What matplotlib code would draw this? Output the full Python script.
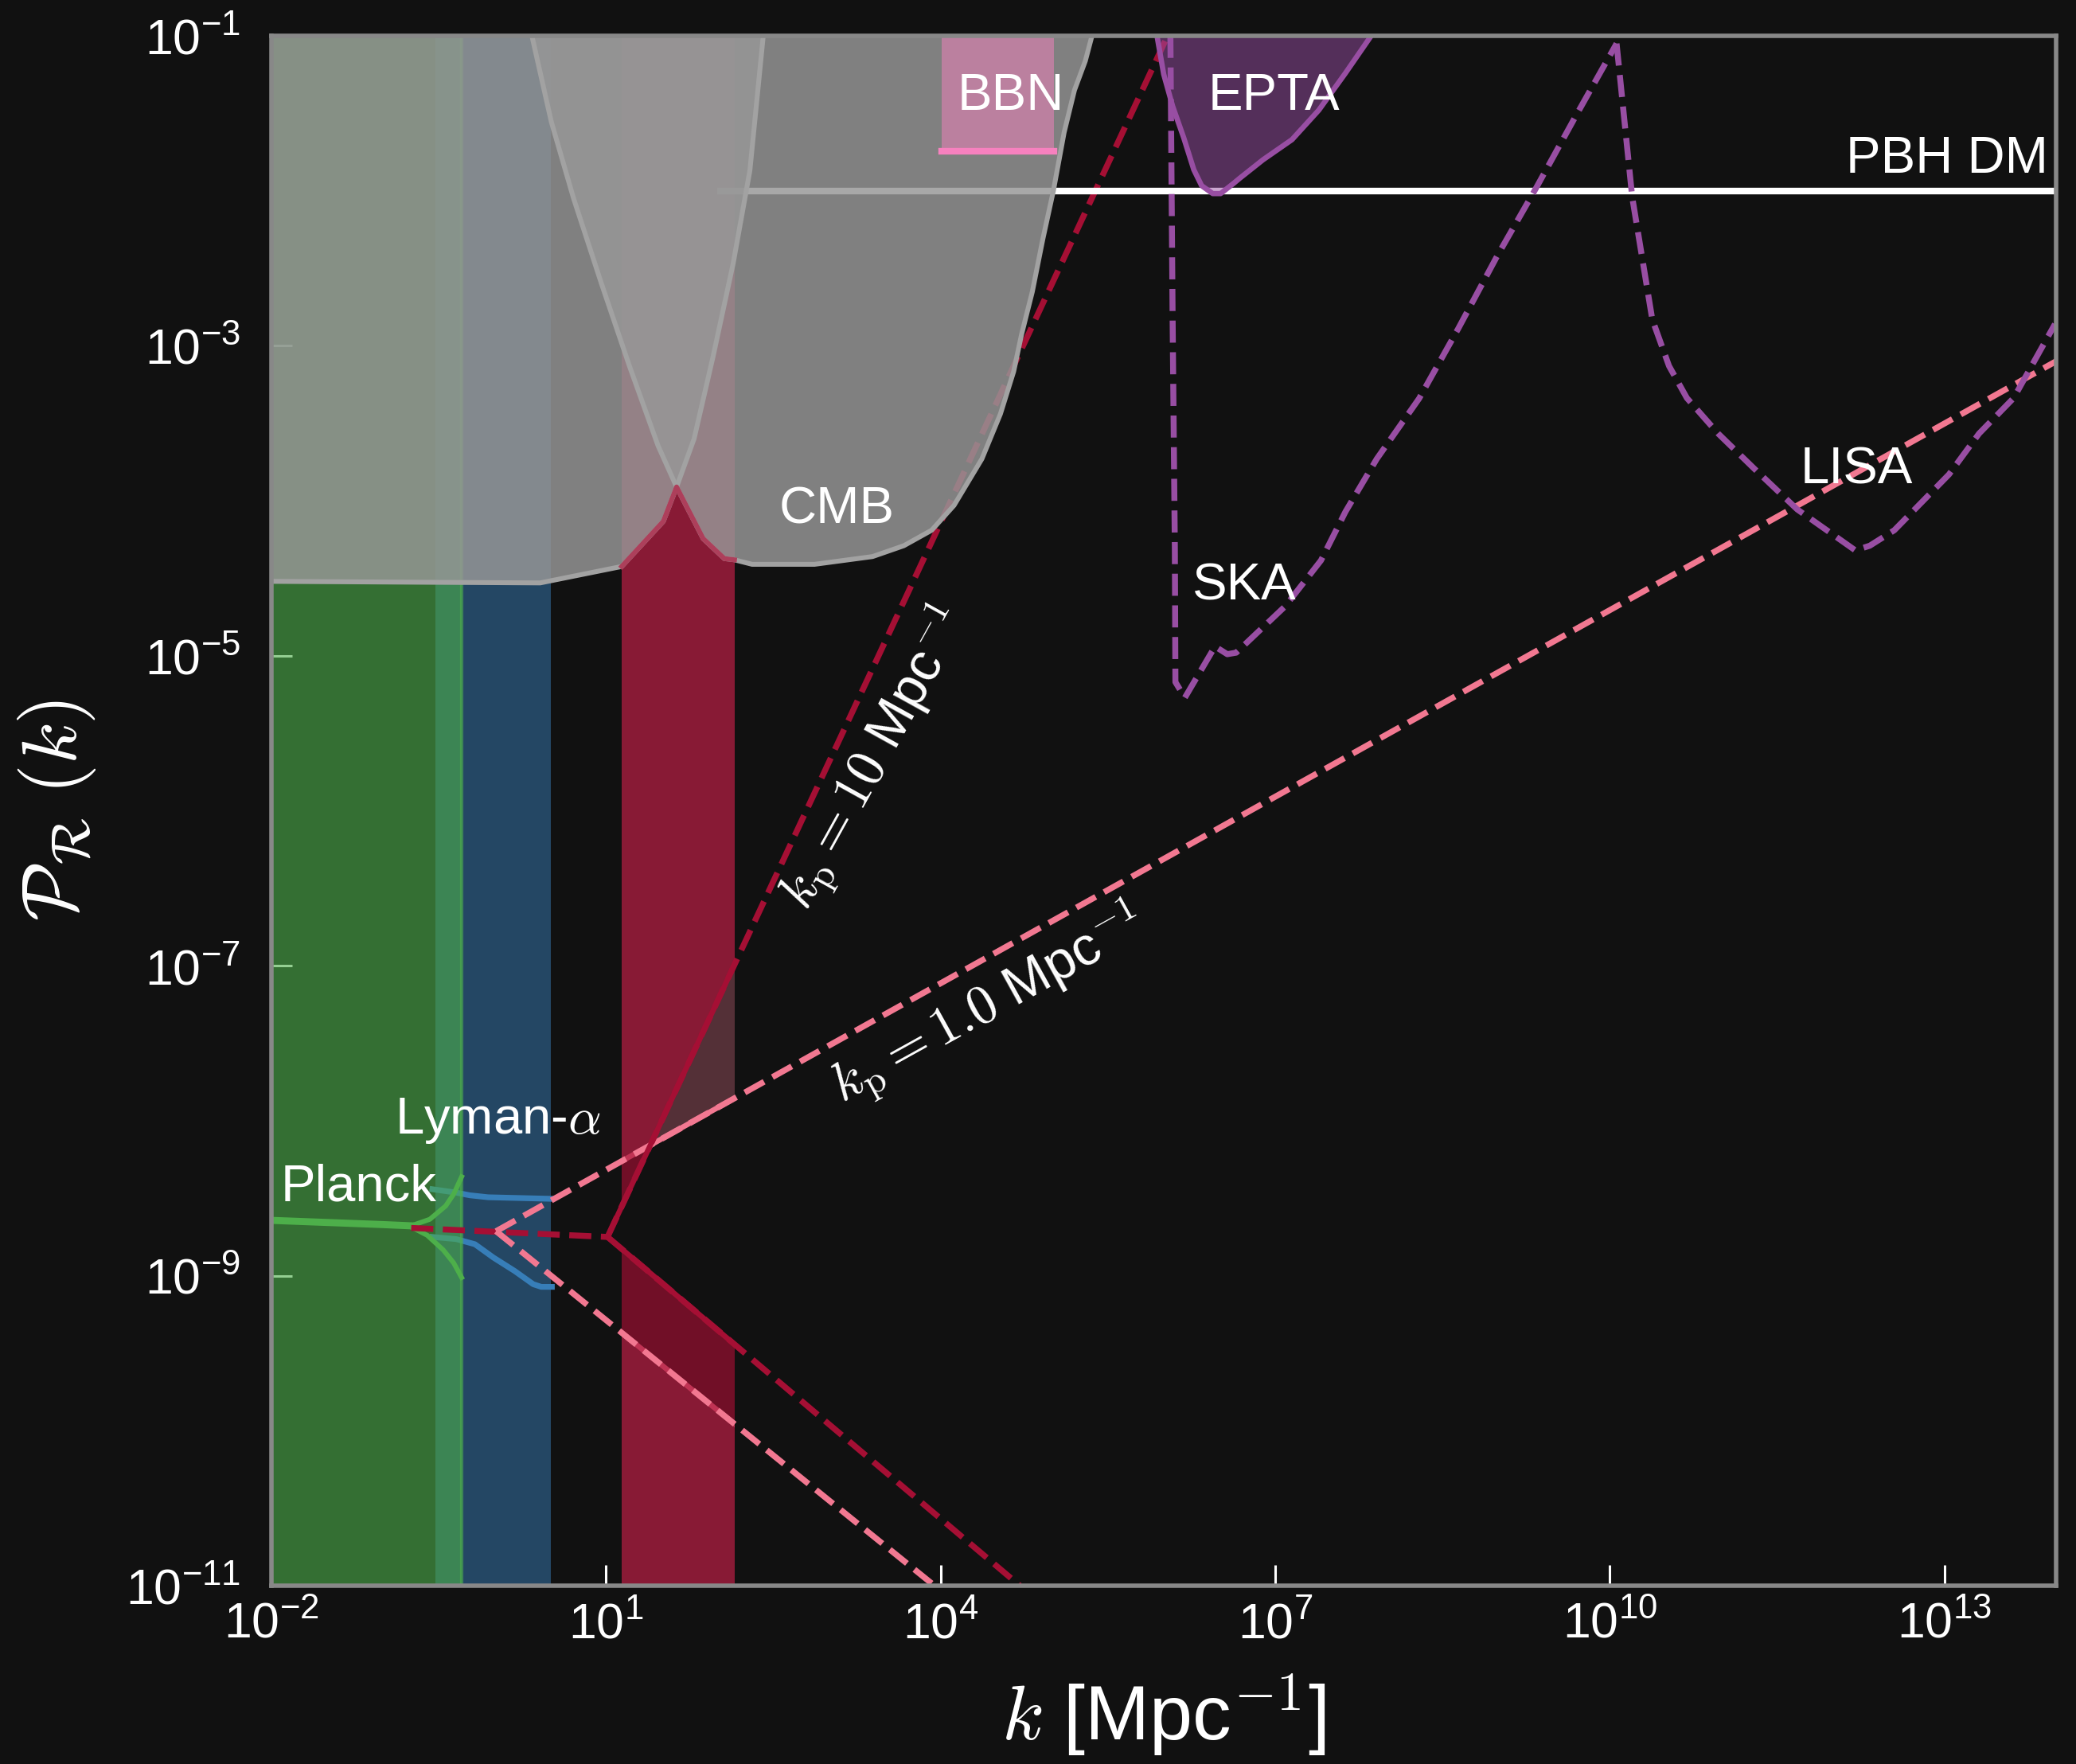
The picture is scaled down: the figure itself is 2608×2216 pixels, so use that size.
import numpy as np
import matplotlib
matplotlib.use("Agg")
import matplotlib.pyplot as plt
from matplotlib.patches import Rectangle
from matplotlib.ticker import FixedLocator, NullLocator

plt.rcParams.update({
    "font.family": ["Liberation Sans", "DejaVu Sans"],
    "mathtext.fontset": "custom",
    "mathtext.rm": "Liberation Sans",
    "mathtext.it": "Liberation Sans:italic",
    "mathtext.bf": "Liberation Sans:bold",
    "mathtext.sf": "Liberation Sans",
})

# ---------------- data (log10 k [Mpc^-1], log10 P_R) ----------------
K_LIM = (1e-2, 1e14)
P_LIM = (1e-11, 1e-1)
xticks = [1e-2, 1e1, 1e4, 1e7, 1e10, 1e13]
yticks = [1e-11, 1e-9, 1e-7, 1e-5, 1e-3, 1e-1]

# Planck
planck_band_logk = [-2.0, -0.294]
planck_mid_logk = [-2.0, -1.008, -0.722]
planck_mid_logP = [-8.643, -8.670, -8.679]
planck_up_logk = [-0.722, -0.579, -0.437, -0.365, -0.294]
planck_up_logP = [-8.672, -8.636, -8.550, -8.473, -8.362]
planck_lo_logk = [-0.746, -0.603, -0.460, -0.365, -0.294]
planck_lo_logP = [-8.686, -8.739, -8.833, -8.918, -9.012]

# Lyman-alpha
lya_band_logk = [-0.532, 0.503]
lya_up_logk = [-0.556, -0.342, -0.223, -0.056, 0.515]
lya_up_logP = [-8.442, -8.464, -8.481, -8.494, -8.504]
lya_lo_logk = [-0.556, -0.342, -0.175, -0.009, 0.182, 0.348, 0.420, 0.515]
lya_lo_logP = [-8.750, -8.764, -8.797, -8.883, -8.970, -9.055, -9.072, -9.072]

# red band (k range)
red_band_logk = [1.141, 2.152]
red_edge_logk = [1.141, 1.514, 1.633, 1.871, 2.061, 2.152]
red_edge_logP = [-4.424, -4.133, -3.911, -4.244, -4.373, -4.381]

# spectra with peaks at k_p
base_logk = [-0.746, 1.014]
base_logP = [-8.692, -8.750]
kp10_up_logk = [1.014, 6.035]
kp10_up_logP = [-8.750, -1.0]
kp10_dn_logk = [1.014, 4.71]
kp10_dn_logP = [-8.750, -11.0]
kp1_up_logk = [0.015, 14.0]
kp1_up_logP = [-8.713, -3.10]
kp1_dn_logk = [0.015, 3.945]
kp1_dn_logP = [-8.713, -11.0]

# CMB-type gray regions
g1_logk = [2.41, 2.29, 2.14, 1.96, 1.79, 1.633, 1.514, 1.141, 0.41, -2.0]
g1_logP = [-1.0, -1.87, -2.47, -3.07, -3.60, -3.911, -4.133, -4.424, -4.53, -4.52]
g2_logk = [0.336, 0.51, 0.71, 0.96, 1.21, 1.467, 1.633, 1.871, 2.061, 2.152, 2.31, 2.87,
           3.39, 3.67, 3.92, 4.12, 4.37, 4.536, 4.655, 4.726, 4.822, 4.917, 5.011,
           5.107, 5.20, 5.297, 5.357]
g2_logP = [-1.0, -1.555, -2.05, -2.60, -3.13, -3.645, -3.911, -4.244, -4.373, -4.381, -4.41,
           -4.41, -4.36, -4.29, -4.19, -4.03, -3.73, -3.44, -3.166, -2.926, -2.652, -2.31,
           -2.0, -1.625, -1.351, -1.163, -1.0]

# PBH DM, BBN
pbh_logk = [2.0, 14.0]
pbh_logP = -2.0
bbn_logk = [4.012, 5.017]
bbn_logP = -1.745

# EPTA
epta_logk = [5.94, 6.0, 6.08, 6.18, 6.27, 6.34, 6.44, 6.51, 6.63, 6.68, 6.89, 7.15, 7.39, 7.63, 7.86]
epta_logP = [-1.0, -1.248, -1.454, -1.659, -1.864, -1.967, -2.018, -2.018, -1.950, -1.92,
             -1.80, -1.67, -1.48, -1.24, -1.0]

# SKA
ska_logk = [6.06, 6.08, 6.10, 6.105, 6.19, 6.46, 6.57, 6.65, 7.09, 7.41, 7.63, 7.91,
            8.29, 8.64, 8.99, 9.34, 9.70, 10.06]
ska_logP = [-1.0, -2.83, -4.31, -5.17, -5.27, -4.94, -4.99, -4.98, -4.68, -4.385, -4.07,
            -3.73, -3.34, -2.89, -2.42, -1.98, -1.51, -1.05]

# LISA
lisa_logk = [10.06, 10.20, 10.38, 10.53, 10.69, 10.97, 11.29, 11.68, 12.20, 12.33, 12.55,
             13.04, 13.31, 13.62, 13.99]
lisa_logP = [-1.05, -2.04, -2.83, -3.13, -3.337, -3.566, -3.79, -4.056, -4.32, -4.29, -4.19,
             -3.83, -3.566, -3.337, -2.86]

# labels: (text, log k, log P)
labels = [
    ("Planck", -1.916, -8.517),
    ("Lyman-$\\alpha$", -0.891, -8.081),
    ("CMB", 2.554, -4.148),
    ("BBN", 4.151, -1.479),
    ("EPTA", 6.395, -1.477),
    ("SKA", 6.258, -4.640),
    ("LISA", 11.705, -3.887),
]
pbh_label = ("PBH DM", 13.93, -1.883)
kp10_label = ("$k_{\\rm p} = 10$ Mpc$^{-1}$", 3.408, -5.661, 61.0)
kp1_label = ("$k_{\\rm p} = 1.0$ Mpc$^{-1}$", 4.426, -7.255, 29.0)

# ---------------- styling ----------------
BG = "#111111"
c_green = "#4daf4a"
c_blue = "#377eb8"
c_crimson = "#a50f34"
c_pink = "#f27891"
c_bbn = "#f781bf"
c_purple = "#984ea3"
c_gray = "#979797"
c_gray_edge = "#a2a2a2"

LW_DASH = 2.7
DASH = (0, (3.7, 1.6))


def p10(v):
    return np.power(10.0, np.asarray(v, dtype=float))


fig = plt.figure(figsize=(13.04, 11.08), dpi=200, facecolor=BG)
ax = fig.add_axes([0.1307, 0.1011, 0.8597, 0.8786])
ax.set_facecolor(BG)
ax.set_xscale("log")
ax.set_yscale("log")
ax.set_xlim(K_LIM)
ax.set_ylim(P_LIM)
ax.set_axisbelow(True)

Pmin, Pmax = P_LIM
kmin, kmax = K_LIM

# band clip rectangle
band_k = p10(red_band_logk)
band_rect = Rectangle((band_k[0], Pmin), band_k[1] - band_k[0], Pmax - Pmin,
                      transform=ax.transData)


def wedge_fill(up_k, up_P, dn_k, dn_P, color, alpha, z):
    kk = list(p10(up_k)) + [p10(up_k[-1]), p10(up_k[0])]
    pp = list(p10(up_P)) + [Pmax, Pmax]
    f1 = ax.fill(kk, pp, color=color, alpha=alpha, lw=0, zorder=z)[0]
    f1.set_clip_path(band_rect)
    kk = list(p10(dn_k)) + [p10(dn_k[0])]
    pp = list(p10(dn_P)) + [Pmin]
    f2 = ax.fill(kk, pp, color=color, alpha=alpha, lw=0, zorder=z)[0]
    f2.set_clip_path(band_rect)


# pink (k_p = 1) outside-wedge fill, then crimson (k_p = 10)
wedge_fill(kp1_up_logk, kp1_up_logP, kp1_dn_logk, kp1_dn_logP, c_pink, 0.30, 1.0)
for lk, lp in [(kp1_up_logk, kp1_up_logP), (kp1_dn_logk, kp1_dn_logP)]:
    ln, = ax.plot(p10(lk), p10(lp), color=c_pink, lw=2.4, zorder=1.1,
                  solid_capstyle="butt")
    ln.set_clip_path(band_rect)
wedge_fill(kp10_up_logk, kp10_up_logP, kp10_dn_logk, kp10_dn_logP, c_crimson, 0.65, 1.2)

# Lyman-alpha band
ax.fill_between(p10(lya_band_logk), Pmin, Pmax, color=c_blue, alpha=0.5, lw=0, zorder=1.3)
ax.plot(p10(lya_up_logk), p10(lya_up_logP), color=c_blue, lw=2.6, zorder=1.4)
ax.plot(p10(lya_lo_logk), p10(lya_lo_logP), color=c_blue, lw=2.6, zorder=1.4)

# Planck band
ax.fill_between(p10(planck_band_logk), Pmin, Pmax, color=c_green, alpha=0.6, lw=1.5,
                zorder=1.5)
ax.plot(p10(planck_mid_logk), p10(planck_mid_logP), color=c_green, lw=3.2, zorder=1.6,
        solid_capstyle="butt")
ax.plot(p10(planck_up_logk), p10(planck_up_logP), color=c_green, lw=2.2, zorder=1.6)
ax.plot(p10(planck_lo_logk), p10(planck_lo_logP), color=c_green, lw=2.2, zorder=1.6)

# dashed spectra
ax.plot(p10(base_logk), p10(base_logP), color=c_crimson, lw=LW_DASH, ls=DASH, zorder=1.7)
seg_rect = Rectangle((p10(kp10_up_logk[0]), Pmin), band_k[1] - p10(kp10_up_logk[0]),
                     Pmax - Pmin, transform=ax.transData)
for lk, lp in [(kp10_up_logk, kp10_up_logP), (kp10_dn_logk, kp10_dn_logP)]:
    ax.plot(p10(lk), p10(lp), color=c_crimson, lw=LW_DASH, ls=DASH, zorder=1.7)
    ln, = ax.plot(p10(lk), p10(lp), color=c_crimson, lw=2.4, zorder=1.75)
    ln.set_clip_path(seg_rect)
for lk, lp in [(kp1_up_logk, kp1_up_logP), (kp1_dn_logk, kp1_dn_logP)]:
    ax.plot(p10(lk), p10(lp), color=c_pink, lw=LW_DASH, ls=DASH, zorder=1.7)

# PBH DM line
ax.plot(p10(pbh_logk), [p10(pbh_logP)] * 2, color="white", lw=3.0, zorder=1.8,
        solid_capstyle="butt")

# gray regions
ax.fill(list(p10(g1_logk)) + [kmin, kmin], list(p10(g1_logP)) + [Pmax, Pmax],
        color=c_gray, alpha=0.83, lw=0, zorder=2.0)
ax.fill(list(p10(g2_logk)) + [p10(g2_logk[0])], list(p10(g2_logP)) + [Pmax],
        color=c_gray, alpha=0.83, lw=0, zorder=2.0)
ax.plot(p10(g1_logk), p10(g1_logP), color=c_gray_edge, lw=2.2, zorder=2.1)
ax.plot(p10(g2_logk), p10(g2_logP), color=c_gray_edge, lw=2.2, zorder=2.1)
ax.plot(p10(red_edge_logk), p10(red_edge_logP), color="#ad3f5b", lw=2.2, zorder=2.2)

# BBN
ax.fill_between(p10(bbn_logk), p10(bbn_logP), Pmax, color=c_bbn, alpha=0.5, lw=0,
                zorder=2.3)
ax.plot(p10(bbn_logk), [p10(bbn_logP)] * 2, color=c_bbn, lw=3.0, zorder=2.4,
        solid_capstyle="projecting")

# EPTA
ax.fill_between(p10(epta_logk), p10(epta_logP), Pmax, color=c_purple, alpha=0.5, lw=0,
                zorder=2.3)
ax.plot(p10(epta_logk), p10(epta_logP), color=c_purple, lw=2.4, zorder=2.4)

# SKA / LISA
ax.plot(p10(ska_logk), p10(ska_logP), color=c_purple, lw=LW_DASH, ls=DASH, zorder=2.5)
ax.plot(p10(lisa_logk), p10(lisa_logP), color=c_purple, lw=LW_DASH, ls=DASH, zorder=2.5)

# ---------------- text ----------------
for txt, lk, lp in labels:
    ax.text(p10(lk), p10(lp), txt, color="white", fontsize=23.5, ha="left",
            va="baseline", math_fontfamily="cm", zorder=4)
ax.text(p10(pbh_label[1]), p10(pbh_label[2]), pbh_label[0], color="white", fontsize=23.5,
        ha="right", va="baseline", zorder=4)
for txt, lk, lp, rot in [kp10_label, kp1_label]:
    ax.text(p10(lk), p10(lp), txt, color="white", fontsize=24.5, ha="center", va="center",
            rotation=rot, rotation_mode="anchor", math_fontfamily="cm", zorder=4)

# ---------------- axes ----------------
ax.xaxis.set_major_locator(FixedLocator(xticks))
ax.yaxis.set_major_locator(FixedLocator(yticks))
ax.xaxis.set_minor_locator(NullLocator())
ax.yaxis.set_minor_locator(NullLocator())
ax.tick_params(which="major", direction="in", length=9.5, width=1.1, color="white",
               labelcolor="white", labelsize=22.5)
ax.tick_params(axis="x", pad=7)
ax.tick_params(axis="y", pad=14)
for s in ax.spines.values():
    s.set_color("#888888")
    s.set_linewidth(2.0)
    s.set_zorder(3)

ax.set_xlabel("$k$ [Mpc$^{-1}$]", color="white", fontsize=35, math_fontfamily="cm")
ax.set_ylabel("$\\mathcal{P}_\\mathcal{R}\\;(k)$", color="white", fontsize=35,
              math_fontfamily="cm")
ax.xaxis.set_label_coords(0.5, -0.056)
ax.yaxis.set_label_coords(-0.097, 0.5)

fig.savefig("out.png", dpi=200, facecolor=BG)
